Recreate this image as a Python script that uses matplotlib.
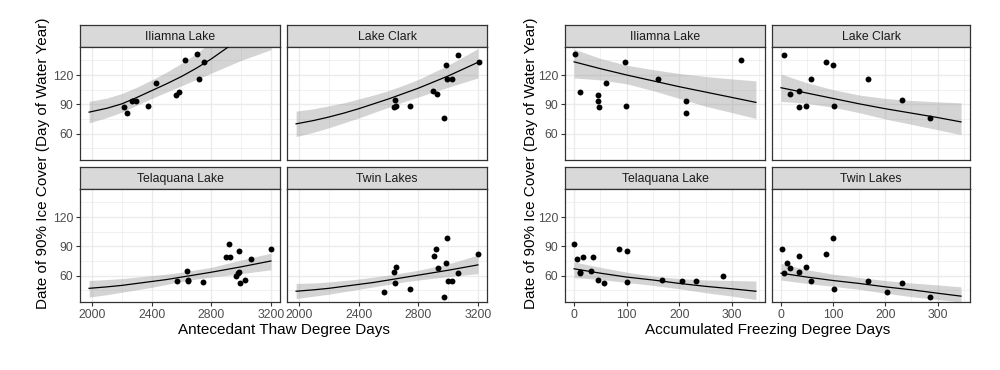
import matplotlib
matplotlib.use("Agg")
import matplotlib.pyplot as plt
from matplotlib.ticker import MultipleLocator, FixedLocator

plt.rcParams['font.family'] = ['Liberation Sans', 'DejaVu Sans']

# ---------------- data ----------------
lakes = ["Iliamna Lake", "Lake Clark", "Telaquana Lake", "Twin Lakes"]

iliamna_ice = [142, 103, 100, 93, 93, 87, 112, 133, 88, 116, 81, 135]
iliamna_thaw = [2704, 2581, 2561, 2266, 2293, 2216, 2427, 2753, 2373, 2720, 2236, 2624]
iliamna_freeze = [2, 12, 46, 46, 213, 47, 61, 97, 99, 160, 213, 317]

clark_ice = [141, 101, 104, 87, 88, 88, 116, 116, 133, 130, 94, 76]
clark_thaw = [3067, 2926, 2899, 2635, 2653, 2747, 2995, 3026, 3208, 2988, 2642, 2971]
clark_freeze = [6, 17, 35, 35, 47, 102, 57, 166, 86, 100, 232, 285]

telaquana_ice = [92, 77, 64, 63, 79, 79, 65, 56, 56, 52, 87, 85, 53, 54, 54, 60]
telaquana_thaw = [2921, 3065, 2986, 2979, 2899, 2928, 2635, 2646, 3028, 2991, 3201, 2984, 2746, 2568, 2642, 2966]
telaquana_freeze = [0, 6, 11, 12, 17, 35, 32, 46, 167, 56, 86, 100, 101, 204, 232, 283]

twin_ice = [87, 73, 63, 68, 80, 64, 69, 55, 82, 99, 46, 55, 43, 52, 38]
twin_thaw = [2919, 2984, 3065, 2930, 2904, 2635, 2648, 2997, 3203, 2991, 2747, 3028, 2572, 2642, 2971]
twin_freeze = [1, 11, 6, 17, 34, 35, 47, 57, 86, 100, 102, 166, 203, 232, 285]

# fitted curves
thaw_grid = [1980, 2100, 2200, 2300, 2400, 2500, 2600, 2700, 2800, 3000, 3200]
iliamna_thaw_fit = [82, 86, 90.5, 97, 104, 111, 118.5, 127, 136.5, 158, 182]
iliamna_thaw_lo = [71, 76.5, 82, 89, 96, 102.5, 109, 115.5, 122, 135, 146]
iliamna_thaw_hi = [93, 96.5, 101, 107.5, 115, 123, 132, 142, 154, 180, 220]
clark_thaw_fit = [70, 73.5, 77, 81, 85.5, 90.5, 95.5, 101, 106.5, 119, 133]
clark_thaw_lo = [57, 61.5, 66, 71, 76, 81.5, 87, 92.5, 97.5, 107.5, 117]
clark_thaw_hi = [83, 85.5, 88.5, 91.5, 95.5, 99.5, 104, 109.5, 115.5, 130, 147]
telaquana_thaw_fit = [47, 48.5, 50, 52, 54, 56, 58.5, 61, 63.5, 69, 75]
telaquana_thaw_lo = [38, 40.5, 43, 45.5, 48, 51, 54, 56.5, 58.5, 62, 66]
telaquana_thaw_hi = [55, 56, 57, 58.5, 60, 61.5, 63.5, 66, 68.5, 76, 83]
twin_thaw_fit = [44, 45.5, 47, 49, 51, 53, 55.5, 58, 60.5, 65.5, 71]
twin_thaw_lo = [36.5, 39, 41, 43.5, 46, 48.5, 51, 53.5, 55.5, 59, 62]
twin_thaw_hi = [52, 52.5, 53.5, 55, 56.5, 58.5, 60.5, 63, 65.5, 72, 81]

freeze_grid = [0, 50, 100, 150, 200, 250, 300, 345]
iliamna_freeze_fit = [133.5, 126.5, 120, 114, 108, 102.5, 97, 92]
iliamna_freeze_lo = [117, 115, 111, 104, 96, 88, 81.5, 75.5]
iliamna_freeze_hi = [146.5, 137, 130, 125.5, 121.5, 118.5, 116, 114]
clark_freeze_fit = [107, 101.5, 96, 90.5, 85.5, 81, 76.5, 72]
clark_freeze_lo = [93, 91, 87, 81.5, 75, 69.5, 64, 59]
clark_freeze_hi = [121, 112, 105, 99.5, 96, 94, 92.5, 91.5]
telaquana_freeze_fit = [67, 62.5, 58.5, 55.5, 52, 49, 46.5, 44]
telaquana_freeze_lo = [58, 56, 53, 50, 46.5, 42.5, 39, 35.5]
telaquana_freeze_hi = [74, 68.5, 63.5, 59.5, 57, 55.5, 55, 54.5]
twin_freeze_fit = [62.5, 58.5, 55, 52, 48.5, 45.5, 42, 39]
twin_freeze_lo = [55.5, 52, 49, 46, 42, 38.5, 35.5, 33]
twin_freeze_hi = [72.5, 66, 61.5, 58, 55, 52.5, 50.5, 48.5]

thaw_ticks = [2000, 2400, 2800, 3200]
freeze_ticks = [0, 100, 200, 300]
y_ticks = [60, 90, 120]

x_title_thaw = "Antecedant Thaw Degree Days"
x_title_freeze = "Accumulated Freezing Degree Days"
y_title = "Date of 90% Ice Cover (Day of Water Year)"

# ---------------- layout ----------------
W, H = 1000, 370
fig = plt.figure(figsize=(W / 100, H / 100), dpi=100)
fig.patch.set_facecolor("white")

def box(x0, y0, x1, y1):
    return [x0 / W, 1 - y1 / H, (x1 - x0) / W, (y1 - y0) / H]

ylim = (33, 148.7)
thaw_xlim = (1919, 3261)
freeze_xlim = (-17.25, 362.25)

rows = [(25, 47, 160), (167, 189, 302)]
left_cols = [(80, 280), (287, 487)]
right_cols = [(565, 765), (772, 970)]

GRID = "#ebebeb"
BORDER = "#333333"
TICKTXT = "#4d4d4d"

panels = [
    (left_cols, 0, 0, lakes[0], iliamna_thaw, iliamna_ice, thaw_grid, iliamna_thaw_fit, iliamna_thaw_lo, iliamna_thaw_hi, thaw_xlim, thaw_ticks, 200),
    (left_cols, 1, 0, lakes[1], clark_thaw, clark_ice, thaw_grid, clark_thaw_fit, clark_thaw_lo, clark_thaw_hi, thaw_xlim, thaw_ticks, 200),
    (left_cols, 0, 1, lakes[2], telaquana_thaw, telaquana_ice, thaw_grid, telaquana_thaw_fit, telaquana_thaw_lo, telaquana_thaw_hi, thaw_xlim, thaw_ticks, 200),
    (left_cols, 1, 1, lakes[3], twin_thaw, twin_ice, thaw_grid, twin_thaw_fit, twin_thaw_lo, twin_thaw_hi, thaw_xlim, thaw_ticks, 200),
    (right_cols, 0, 0, lakes[0], iliamna_freeze, iliamna_ice, freeze_grid, iliamna_freeze_fit, iliamna_freeze_lo, iliamna_freeze_hi, freeze_xlim, freeze_ticks, 50),
    (right_cols, 1, 0, lakes[1], clark_freeze, clark_ice, freeze_grid, clark_freeze_fit, clark_freeze_lo, clark_freeze_hi, freeze_xlim, freeze_ticks, 50),
    (right_cols, 0, 1, lakes[2], telaquana_freeze, telaquana_ice, freeze_grid, telaquana_freeze_fit, telaquana_freeze_lo, telaquana_freeze_hi, freeze_xlim, freeze_ticks, 50),
    (right_cols, 1, 1, lakes[3], twin_freeze, twin_ice, freeze_grid, twin_freeze_fit, twin_freeze_lo, twin_freeze_hi, freeze_xlim, freeze_ticks, 50),
]

for cols, ci, ri, name, xs, ys, grid, fit, lo, hi, xlim, xticks, minor in panels:
    x0, x1 = cols[ci]
    s0, p0, p1 = rows[ri]
    # strip
    sax = fig.add_axes(box(x0, s0, x1, p0))
    sax.set_facecolor("#d9d9d9")
    sax.set_xticks([]); sax.set_yticks([])
    for sp in sax.spines.values():
        sp.set_color(BORDER); sp.set_linewidth(0.9)
    sax.text(0.5, 0.47, name, ha="center", va="center", fontsize=8.8,
             color="#1a1a1a", transform=sax.transAxes)
    # panel
    ax = fig.add_axes(box(x0, p0, x1, p1))
    ax.set_facecolor("white")
    ax.set_xlim(*xlim); ax.set_ylim(*ylim)
    ax.xaxis.set_major_locator(FixedLocator(xticks))
    ax.xaxis.set_minor_locator(MultipleLocator(minor))
    ax.yaxis.set_major_locator(FixedLocator(y_ticks))
    ax.yaxis.set_minor_locator(FixedLocator([45, 75, 105, 135]))
    ax.grid(which="major", color=GRID, linewidth=1.0, zorder=0)
    ax.grid(which="minor", color=GRID, linewidth=0.5, zorder=0)
    ax.set_axisbelow(True)
    for sp in ax.spines.values():
        sp.set_color(BORDER); sp.set_linewidth(0.9)
    ax.fill_between(grid, lo, hi, color="#999999", alpha=0.42, linewidth=0, zorder=2)
    ax.plot(grid, fit, color="black", linewidth=0.9, zorder=3)
    ax.scatter(xs, ys, s=18, color="black", zorder=4, linewidths=0)
    ax.tick_params(which="minor", length=0)
    ax.tick_params(which="major", length=3, width=0.8, color=BORDER,
                   labelsize=8.8, labelcolor=TICKTXT, pad=2)
    if ri == 0:
        ax.tick_params(axis="x", which="both", bottom=False, labelbottom=False)
    if ci == 1:
        ax.tick_params(axis="y", which="both", left=False, labelleft=False)

# axis titles
fig.text((80 + 487) / 2 / W, 1 - 330 / H, x_title_thaw, ha="center", va="center", fontsize=11, color="black")
fig.text((565 + 970) / 2 / W, 1 - 330 / H, x_title_freeze, ha="center", va="center", fontsize=11, color="black")
fig.text(43 / W, 1 - 163 / H, y_title, ha="center", va="center", rotation=90, fontsize=11, color="black")
fig.text(531 / W, 1 - 163 / H, y_title, ha="center", va="center", rotation=90, fontsize=11, color="black")

fig.savefig("out.png", dpi=100, facecolor="white")
